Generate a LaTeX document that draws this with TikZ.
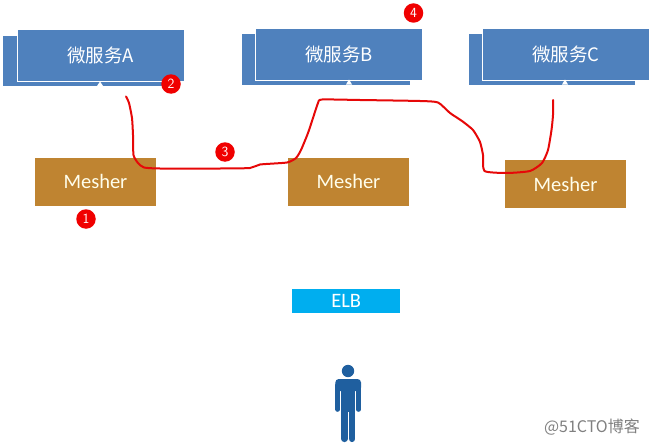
\documentclass[tikz,border=0pt]{standalone}
\usepackage{fontspec}
\setmainfont{Carlito}
\newfontfamily\cjk{Noto Sans CJK SC}
\definecolor{svcblue}{HTML}{4F81BD}
\definecolor{mesherbrown}{HTML}{BF8431}
\definecolor{elbblue}{HTML}{00AEEF}
\definecolor{personblue}{HTML}{1F5F9F}
\definecolor{markred}{HTML}{F00000}
\definecolor{curvered}{HTML}{E60808}
\definecolor{wmgray}{HTML}{808080}
\tikzset{
  x=1pt,y=-1pt,
  back/.style={fill=svcblue,draw=none,minimum width=#1,minimum height=50.5pt,inner sep=0pt,anchor=north west},
  front/.style={fill=svcblue,draw=white,line width=1pt,minimum width=167pt,minimum height=51.5pt,inner sep=0pt,anchor=north west,text=white,font=\cjk\fontsize{18.5}{20}\selectfont},
  mesher/.style={fill=mesherbrown,draw=none,minimum width=121.5pt,inner sep=0pt,anchor=north west,text=white!92!yellow,font=\fontsize{20.5}{22}\selectfont},
  elb/.style={fill=elbblue,draw=none,minimum width=108pt,minimum height=23.5pt,inner sep=0pt,anchor=north west,text=white,font=\fontsize{20.5}{22}\selectfont},
  badge/.style={circle,fill=markred,draw=none,minimum size=19.5pt,inner sep=0pt,text=white,font=\fontsize{14}{15}\selectfont\sffamily},
  notch/.style={fill=white,draw=none},
  redline/.style={draw=curvered,line width=2pt,line cap=round,line join=round},
  personpart/.style={fill=personblue,draw=none},
  limb/.style={draw=personblue,line cap=round,line width=#1},
  watermark/.style={text=wmgray,inner sep=0pt,font=\cjk\fontsize{16}{18}\selectfont}
}
\begin{document}
\begin{tikzpicture}
\useasboundingbox (0,0) rectangle (650,444);
% service boxes
\node[back=162pt] (backA) at (3,35.5) {};
\node[front] (svcA) at (16.5,29.5) {微服务A};
\fill[notch] (100,81.5) -- (97,86) -- (103,86) -- cycle;
\node[back=168pt] (backB) at (242,34) {};
\node[front] (svcB) at (255,28.5) {微服务B};
\fill[notch] (349,79.5) -- (346,84.5) -- (352,84.5) -- cycle;
\node[back=166pt] (backC) at (469,34) {};
\node[front] (svcC) at (482,28.5) {微服务C};
\fill[notch] (565,79.5) -- (562,84.5) -- (568,84.5) -- cycle;
% mesher boxes
\node[mesher,minimum height=47.5pt] (meshA) at (34.5,158) {Mesher};
\node[mesher,minimum height=47.5pt] (meshB) at (287.5,158) {Mesher};
\node[mesher,minimum height=48pt] (meshC) at (504.5,160) {Mesher};
% elb
\node[elb] (elb) at (292,289) {ELB};
% person
\fill[personpart] (348,371) circle (6.2);
\fill[personpart,rounded corners=3.5pt] (335.3,379) rectangle (361,391);
\fill[personpart] (341,385) rectangle (355.4,412);
\draw[limb=4.6pt] (337.7,385) -- (337.7,409.5);
\draw[limb=4.6pt] (358.6,385) -- (358.6,409.5);
\draw[limb=6.6pt] (344.3,408) -- (344.3,438.8);
\draw[limb=6.6pt] (352.1,408) -- (352.1,438.8);
% red curve
\coordinate (cstart) at (126,96.5);
\coordinate (cend) at (553,100);
\draw[redline] plot[smooth,tension=0.35] coordinates {(cstart) (129,103) (132,118) (133,135) (133.5,155) (138,163) (144,167.5) (160,168.5) (220,168.5) (250,168) (260,164.5) (287,162.5) (296,158) (301,150) (308,133) (313,118) (318,103) (322,99.5) (360,100) (420,101) (438,102.5) (450,113) (462,121) (473,130) (480,142) (483,155) (484.5,171) (507,173) (530,171) (542,163) (548,150) (551.5,130) (553,115) (cend)};
% badges
\node[badge] (b1) at (86,219) {1};
\node[badge] (b2) at (171,84) {2};
\node[badge] (b3) at (225,152) {3};
\node[badge] (b4) at (413.5,13) {4};
% watermark
\node[watermark,anchor=east] (wm) at (640,427) {@51CTO博客};
\end{tikzpicture}
\end{document}
